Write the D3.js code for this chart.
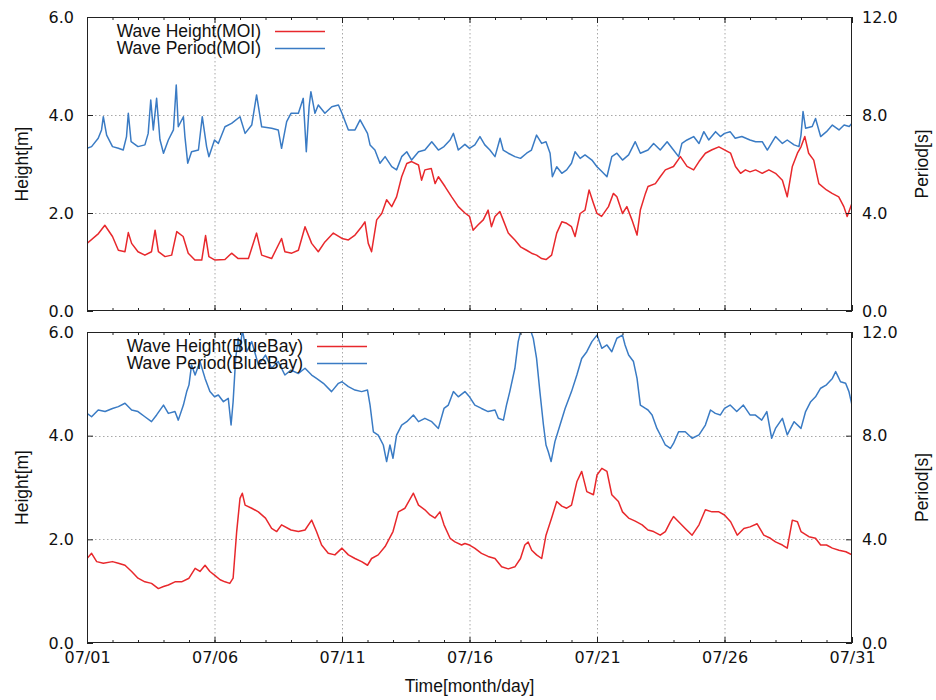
<!DOCTYPE html>
<html>
<head>
<meta charset="utf-8">
<script src="https://cdn.jsdelivr.net/npm/d3@7"></script>
<style>
  body { margin: 0; background: #fff; }
  svg { display: block; }
  .tick text { font-family: "DejaVu Sans", sans-serif; font-size: 16px; fill: #111; }
  .title { font-family: "Liberation Sans", Arial, sans-serif; font-size: 17.5px; fill: #111; }
</style>
</head>
<body>
<svg id="chart" width="936" height="700"></svg>
<script>
// Time axis: days after 07/01 00:00, labelled every five days
const dateTicks = [0, 5, 10, 15, 20, 25, 30];
const dateLabels = ["07/01", "07/06", "07/11", "07/16", "07/21", "07/26", "07/31"];
const heightTicks = [0, 2, 4, 6];
const periodTicks = [0, 4, 8, 12];

// MOI buoy: significant wave height [m]
const moiHeightDay = [0,0.45,0.7,1,1.23,1.49,1.62,1.75,2,2.27,2.53,2.67,2.8,3.06,3.32,3.52,3.77,3.97,4.23,4.5,4.65,4.78,5.02,5.41,5.67,5.93,6.33,6.65,6.85,7.24,7.63,7.76,8.03,8.29,8.55,8.81,9.07,9.33,9.66,10,10.25,10.51,10.77,10.9,11.03,11.16,11.36,11.56,11.75,11.95,12.14,12.34,12.54,12.73,13,13.12,13.25,13.5,13.65,13.78,14.04,14.3,14.56,14.82,15,15.14,15.34,15.54,15.73,15.86,16,16.19,16.32,16.52,16.78,17,17.24,17.43,17.63,17.83,18,18.22,18.42,18.62,18.81,19,19.14,19.34,19.53,19.69,19.86,20,20.18,20.45,20.64,20.78,21,21.17,21.37,21.57,21.7,21.9,22,22.29,22.48,22.68,23,23.27,23.53,23.79,24,24.25,24.51,24.78,25,25.24,25.43,25.63,25.82,26,26.22,26.48,26.74,27,27.27,27.46,27.66,27.86,28,28.15,28.3,28.5,28.7,29,29.22,29.48,29.68,29.81,30];
const moiHeight = [1.38,1.58,1.75,1.52,1.24,1.21,1.6,1.38,1.21,1.14,1.21,1.65,1.21,1.11,1.14,1.62,1.52,1.18,1.04,1.04,1.54,1.11,1.04,1.05,1.18,1.07,1.07,1.59,1.14,1.07,1.48,1.21,1.18,1.24,1.72,1.38,1.21,1.41,1.59,1.48,1.45,1.55,1.72,1.82,1.38,1.21,1.86,1.99,2.27,2.13,2.33,2.74,3.01,3.05,2.98,2.67,2.88,2.91,2.6,2.74,2.54,2.33,2.13,2.0,1.93,1.65,1.76,1.86,2.06,1.72,1.93,2.03,1.86,1.59,1.45,1.31,1.24,1.18,1.14,1.07,1.05,1.14,1.59,1.82,1.79,1.72,1.52,1.99,2.06,2.47,2.2,1.99,1.93,2.13,2.4,2.33,1.99,2.13,1.86,1.55,2.06,2.4,2.54,2.6,2.74,2.88,2.95,3.15,2.95,2.88,3.05,3.22,3.29,3.35,3.29,3.22,2.95,2.81,2.88,2.84,2.88,2.81,2.88,2.81,2.67,2.33,2.95,3.22,3.35,3.56,3.22,3.08,2.6,2.47,2.4,2.33,2.13,1.93,2.2];

// MOI buoy: wave period [s]
const moiPeriodDay = [0,0.18,0.44,0.57,0.64,0.77,1,1.23,1.42,1.55,1.62,1.73,2,2.27,2.4,2.5,2.6,2.73,2.86,3,3.19,3.39,3.5,3.58,3.78,3.84,3.95,4.1,4.37,4.52,4.69,4.78,5,5.15,5.41,5.67,6,6.2,6.46,6.65,6.85,7.24,7.5,7.63,7.83,8,8.29,8.48,8.6,8.71,8.78,8.94,9.07,9.33,9.6,9.86,10,10.25,10.51,10.71,11,11.1,11.29,11.49,11.69,11.95,12.14,12.34,12.54,12.73,13,13.25,13.52,13.78,14,14.24,14.37,14.56,14.82,15,15.21,15.41,15.6,15.8,16,16.2,16.32,16.52,16.78,17,17.24,17.43,17.63,17.83,18,18.16,18.25,18.42,18.62,18.81,19,19.14,19.34,19.53,19.8,20,20.19,20.39,20.58,20.78,21,21.24,21.5,21.7,22,22.22,22.48,22.75,23,23.2,23.33,23.53,23.79,24,24.19,24.38,24.65,24.84,25,25.22,25.42,25.68,26,26.22,26.48,26.68,26.88,27,27.27,27.46,27.73,27.92,28,28.08,28.18,28.44,28.57,28.77,29,29.23,29.49,29.69,29.89,30];
const moiPeriod = [6.64,6.71,7.05,7.39,7.93,7.18,6.71,6.64,6.57,7.12,8.07,6.91,6.71,6.78,7.25,8.61,7.39,8.68,7.0,6.44,6.98,7.39,9.22,7.52,7.93,7.12,6.03,6.5,6.57,7.93,6.71,6.3,6.98,6.84,7.52,7.66,7.93,7.25,7.59,8.82,7.52,7.46,7.39,6.64,7.73,8.07,8.07,8.68,6.5,8.34,8.95,8.07,8.41,8.07,8.34,8.41,8.07,7.39,7.39,7.8,7.25,6.78,6.57,6.03,6.3,5.89,5.76,6.3,6.5,6.16,6.5,6.57,6.91,6.57,6.71,6.98,7.25,6.57,6.8,6.64,6.78,7.12,6.78,6.57,6.3,7.05,6.57,6.44,6.3,6.23,6.44,6.57,7.18,6.84,6.91,6.44,5.48,5.89,5.62,5.76,6.03,6.5,6.23,6.37,6.16,5.89,5.69,5.48,6.3,6.44,6.16,6.37,6.91,6.44,6.57,6.84,6.57,6.91,6.57,6.3,6.84,6.98,7.12,6.84,7.32,6.98,7.32,7.12,7.25,7.32,7.05,7.12,6.98,6.91,6.91,6.57,6.91,7.12,6.84,6.98,6.78,6.71,7.18,8.14,7.46,7.53,7.86,7.12,7.32,7.59,7.39,7.59,7.53,7.66];

// BlueBay buoy: significant wave height [m]
const bbHeightDay = [0,0.18,0.38,0.64,1,1.23,1.49,1.75,2,2.27,2.53,2.8,3,3.19,3.45,3.71,4,4.24,4.43,4.63,4.82,5,5.22,5.41,5.6,5.73,5.87,6,6.09,6.2,6.46,6.72,7,7.24,7.44,7.63,8,8.29,8.55,8.81,9,9.2,9.46,9.72,10,10.25,10.51,10.77,11,11.16,11.42,11.69,12,12.21,12.47,12.8,13,13.25,13.45,13.65,13.84,14,14.24,14.43,14.69,14.82,15,15.2,15.47,15.73,16,16.26,16.52,16.78,17,17.17,17.3,17.44,17.63,17.83,18,18.22,18.42,18.62,18.81,19,19.21,19.4,19.6,19.86,20,20.19,20.39,20.58,20.84,21,21.24,21.5,21.77,22,22.22,22.48,22.68,22.88,23,23.2,23.46,23.73,24,24.25,24.51,24.78,25,25.24,25.5,25.76,26,26.28,26.54,26.8,27,27.27,27.46,27.66,27.86,28,28.31,28.57,28.77,29,29.23,29.49,29.76,30];
const bbHeight = [1.63,1.73,1.57,1.54,1.57,1.54,1.5,1.38,1.25,1.18,1.15,1.05,1.09,1.12,1.18,1.18,1.25,1.44,1.38,1.5,1.38,1.31,1.22,1.18,1.15,1.25,2.15,2.79,2.89,2.66,2.6,2.53,2.41,2.21,2.15,2.28,2.18,2.15,2.18,2.37,2.15,1.89,1.73,1.7,1.83,1.7,1.63,1.57,1.5,1.63,1.7,1.86,2.15,2.53,2.6,2.89,2.66,2.57,2.47,2.41,2.53,2.28,2.02,1.95,1.89,1.92,1.89,1.83,1.73,1.67,1.63,1.47,1.43,1.47,1.63,1.89,1.95,1.79,1.7,1.63,2.08,2.41,2.73,2.64,2.6,2.66,3.11,3.31,2.92,2.86,3.24,3.37,3.31,2.86,2.73,2.53,2.41,2.35,2.28,2.18,2.15,2.08,2.15,2.34,2.44,2.34,2.21,2.08,2.28,2.57,2.53,2.53,2.47,2.34,2.08,2.21,2.24,2.3,2.08,2.02,1.95,1.89,1.83,2.37,2.34,2.15,2.05,2.02,1.89,1.89,1.83,1.79,1.76,1.7];

// BlueBay buoy: wave period [s]
const bbPeriodDay = [0,0.18,0.44,0.71,1,1.23,1.49,1.75,2,2.27,2.53,2.73,3,3.19,3.45,3.58,3.78,3.91,4,4.1,4.24,4.43,4.63,4.82,5,5.15,5.35,5.54,5.65,5.73,5.83,5.93,6,6.09,6.26,6.46,6.72,7,7.24,7.5,7.76,8,8.29,8.55,8.81,9,9.27,9.59,9.86,10,10.25,10.51,10.77,11,11.1,11.23,11.42,11.62,11.75,11.88,12,12.14,12.34,12.54,12.8,13,13.25,13.52,13.78,14,14.17,14.37,14.56,14.82,15,15.21,15.47,15.73,16,16.13,16.33,16.45,16.58,16.78,16.91,17,17.17,17.37,17.5,17.63,17.76,17.9,18,18.09,18.2,18.35,18.55,18.75,19,19.21,19.4,19.6,19.8,20,20.19,20.39,20.58,20.78,21,21.1,21.24,21.43,21.57,21.7,21.9,22,22.16,22.35,22.55,22.68,22.88,23,23.2,23.46,23.73,24,24.25,24.45,24.64,24.84,25,25.22,25.48,25.74,26,26.2,26.46,26.66,26.85,27,27.27,27.46,27.73,28,28.18,28.38,28.57,28.77,29,29.23,29.36,29.55,29.75,29.88,30];
const bbPeriod = [8.86,8.73,8.99,8.93,9.05,9.12,9.25,8.99,8.93,8.73,8.54,8.8,9.18,8.86,8.93,8.6,9.18,9.7,9.96,10.73,10.34,10.86,10.21,9.7,9.5,9.57,9.31,9.44,8.41,9.31,10.98,11.76,11.24,12.08,11.24,11.63,10.73,11.11,10.6,10.86,10.34,10.53,10.4,10.6,10.34,10.21,10.02,9.7,10.02,10.08,9.89,9.76,9.7,9.76,9.18,8.15,8.02,7.64,7.0,7.64,7.13,8.02,8.41,8.54,8.8,8.54,8.67,8.54,8.28,9.05,9.18,9.7,9.5,9.7,9.5,9.18,9.05,8.93,8.99,8.67,8.6,9.18,9.7,10.6,11.63,12.0,12.08,12.14,11.76,10.98,9.7,8.41,7.64,7.38,7.0,7.77,8.41,9.05,9.7,10.34,10.98,11.24,11.63,11.88,11.37,11.5,11.24,11.76,11.88,11.5,11.11,10.86,10.21,9.18,9.05,8.99,8.8,8.28,7.9,7.64,7.51,7.7,8.15,8.15,7.9,8.03,8.41,8.99,8.86,8.8,9.05,9.18,8.93,9.18,8.8,8.8,8.6,8.93,7.9,8.28,8.67,8.03,8.54,8.28,8.93,9.31,9.5,9.83,9.96,10.21,10.47,10.08,10.02,9.7,9.18];

const heightColor = "#e8282c";
const periodColor = "#3a7bc4";

const svg = d3.select("#chart");
const left = 87, right = 852;

const x = d3.scaleLinear().domain([0, 30]).range([left, right]);
const dayTicks = d3.range(0, 31);

const panels = [
  { top: 17, bottom: 311, site: "MOI",
    height: d3.zip(moiHeightDay, moiHeight), period: d3.zip(moiPeriodDay, moiPeriod),
    legendRight: 261, legendLeft: 275, legendY: 31, showDates: false },
  { top: 332, bottom: 643, site: "BlueBay",
    height: d3.zip(bbHeightDay, bbHeight), period: d3.zip(bbPeriodDay, bbPeriod),
    legendRight: 303, legendLeft: 317, legendY: 346, showDates: true }
];

panels.forEach((p, i) => {
  const yH = d3.scaleLinear().domain([0, 6]).range([p.bottom, p.top]);
  const yP = d3.scaleLinear().domain([0, 12]).range([p.bottom, p.top]);
  const g = svg.append("g");

  // dotted grid
  const grid = g.append("g").attr("stroke", "#a8a8a8").attr("stroke-width", 1)
    .attr("stroke-dasharray", "1.5,2.5");
  grid.selectAll("line.v").data(dateTicks.slice(1, -1)).join("line")
    .attr("x1", d => x(d) + 0.5).attr("x2", d => x(d) + 0.5)
    .attr("y1", p.top).attr("y2", p.bottom);
  grid.selectAll("line.h").data(heightTicks.slice(1, -1)).join("line")
    .attr("x1", left).attr("x2", right)
    .attr("y1", d => Math.round(yH(d)) + 0.5).attr("y2", d => Math.round(yH(d)) + 0.5);

  // series, clipped to the frame
  const clipId = "clip" + i;
  svg.append("clipPath").attr("id", clipId).append("rect")
    .attr("x", left).attr("y", p.top).attr("width", right - left).attr("height", p.bottom - p.top);
  const plot = g.append("g").attr("clip-path", `url(#${clipId})`);
  plot.append("path").datum(p.period)
    .attr("fill", "none").attr("stroke", periodColor).attr("stroke-width", 1.5)
    .attr("stroke-linejoin", "round")
    .attr("d", d3.line().x(d => x(d[0])).y(d => yP(d[1])));
  plot.append("path").datum(p.height)
    .attr("fill", "none").attr("stroke", heightColor).attr("stroke-width", 1.5)
    .attr("stroke-linejoin", "round")
    .attr("d", d3.line().x(d => x(d[0])).y(d => yH(d[1])));

  // axes with inward ticks
  const fmtH = d3.format(".1f");
  g.append("g").attr("transform", `translate(${left},0)`)
    .call(d3.axisLeft(yH).tickValues(heightTicks).tickFormat(fmtH).tickSize(-6).tickPadding(13));
  g.append("g").attr("transform", `translate(${right},0)`)
    .call(d3.axisRight(yP).tickValues(periodTicks).tickFormat(fmtH).tickSize(-6).tickPadding(10));
  g.append("g").attr("transform", `translate(0,${p.bottom})`)
    .call(d3.axisBottom(x).tickValues(dayTicks).tickSize(-3).tickFormat(""));
  g.append("g").attr("transform", `translate(0,${p.top})`)
    .call(d3.axisTop(x).tickValues(dayTicks).tickSize(-3).tickFormat(""));
  g.append("g").attr("transform", `translate(0,${p.bottom})`)
    .call(d3.axisBottom(x).tickValues(dateTicks).tickSize(-6).tickPadding(9)
      .tickFormat((d, k) => p.showDates ? dateLabels[k] : ""));
  g.append("g").attr("transform", `translate(0,${p.top})`)
    .call(d3.axisTop(x).tickValues(dateTicks).tickSize(-6).tickFormat(""));
  g.selectAll(".domain").remove();
  g.selectAll(".tick line").attr("stroke", "#222");

  // frame
  g.append("rect").attr("x", left + 0.5).attr("y", p.top + 0.5)
    .attr("width", right - left - 1).attr("height", p.bottom - p.top - 1)
    .attr("fill", "none").attr("stroke", "#222").attr("stroke-width", 1);

  // legend
  const entries = [
    { label: `Wave Height(${p.site})`, color: heightColor },
    { label: `Wave Period(${p.site})`, color: periodColor }
  ];
  entries.forEach((e, k) => {
    const cy = p.legendY + k * 17;
    g.append("text").attr("class", "title").attr("x", p.legendRight).attr("y", cy + 6)
      .attr("text-anchor", "end").text(e.label);
    g.append("line").attr("x1", p.legendLeft).attr("x2", p.legendLeft + 50)
      .attr("y1", cy + 0.5).attr("y2", cy + 0.5)
      .attr("stroke", e.color).attr("stroke-width", 1.5);
  });

  // axis titles
  const mid = (p.top + p.bottom) / 2;
  g.append("text").attr("class", "title").attr("text-anchor", "middle")
    .attr("transform", `translate(28,${mid}) rotate(-90)`).text("Height[m]");
  g.append("text").attr("class", "title").attr("text-anchor", "middle")
    .attr("transform", `translate(928,${mid}) rotate(-90)`).text("Period[s]");
});

svg.append("text").attr("class", "title").attr("text-anchor", "middle")
  .attr("x", (left + right) / 2).attr("y", 692).text("Time[month/day]");
</script>
</body>
</html>
